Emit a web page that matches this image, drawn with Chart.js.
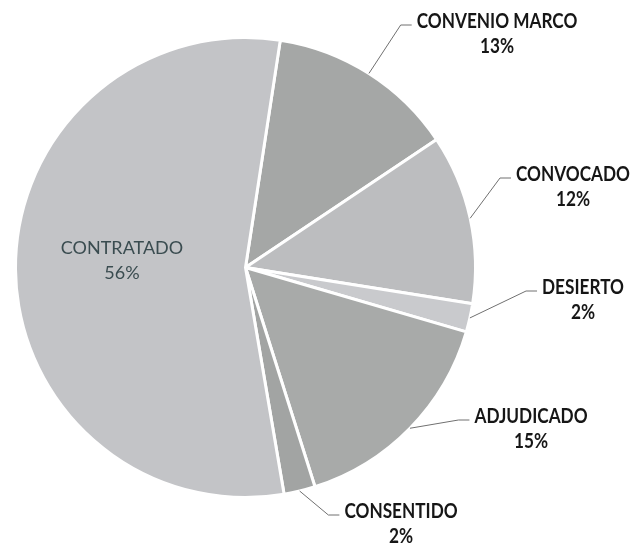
<!DOCTYPE html>
<html>
<head>
<meta charset="utf-8">
<script src="https://cdn.jsdelivr.net/npm/chart.js@4"></script>
<style>
  html, body { margin: 0; padding: 0; background: #fff; }
  #wrap { width: 633px; height: 547px; position: relative; }
</style>
</head>
<body>
<div id="wrap"><canvas id="pie"></canvas></div>
<script>
// slice order is clockwise from the top
const categories = ['CONVENIO MARCO', 'CONVOCADO', 'DESIERTO', 'ADJUDICADO', 'CONSENTIDO', 'CONTRATADO'];
const shares = [13.2, 11.9, 2.0, 15.6, 2.2, 55.1];
const pctLabels = ['13%', '12%', '2%', '15%', '2%', '56%'];

const sliceColors = ['#a5a7a6', '#bcbdbf', '#c9cacd', '#a8aaa9', '#a2a4a3', '#c3c4c7'];

// label placement: text centre x, first line middle y; inside = drawn on the slice
const labelPlace = [
  { x: 497, y: 22 },
  { x: 573, y: 175 },
  { x: 583, y: 288 },
  { x: 531, y: 417 },
  { x: 401, y: 512 },
  { x: 122, y: 248, inside: true },
];

// Calibri-ish: squeeze Lato a little horizontally
const SQUEEZE = 0.86;

function squeezedText(ctx, text, x, y, sx) {
  ctx.save();
  ctx.translate(x, y);
  ctx.scale(sx, 1);
  ctx.fillText(text, 0, 0);
  ctx.restore();
}

const sliceLabels = {
  id: 'sliceLabels',
  afterDatasetsDraw(chart) {
    const ctx = chart.ctx;
    const arcs = chart.getDatasetMeta(0).data;
    ctx.save();
    ctx.textAlign = 'center';
    ctx.textBaseline = 'middle';
    arcs.forEach((arc, i) => {
      const p = labelPlace[i];
      if (p.inside) {
        ctx.font = '18px Lato';
        ctx.fillStyle = '#3a4c50';
        ctx.fillText(categories[i], p.x, p.y);
        ctx.fillText(pctLabels[i], p.x, p.y + 25);
        return;
      }
      ctx.font = 'bold 20px Lato';
      ctx.fillStyle = '#161616';
      // leader: outer edge at mid-angle -> elbow -> short run to the text
      const mid = (arc.startAngle + arc.endAngle) / 2;
      const sx = arc.x + Math.cos(mid) * arc.outerRadius;
      const sy = arc.y + Math.sin(mid) * arc.outerRadius;
      const left = p.x - ctx.measureText(categories[i]).width * SQUEEZE / 2;
      const ex = left - 5, ey = p.y + 3;
      ctx.strokeStyle = '#707070';
      ctx.lineWidth = 1;
      ctx.beginPath();
      ctx.moveTo(sx, sy);
      ctx.lineTo(ex - 11, ey);
      ctx.lineTo(ex, ey);
      ctx.stroke();
      squeezedText(ctx, categories[i], p.x, p.y, SQUEEZE);
      squeezedText(ctx, pctLabels[i], p.x, p.y + 25, SQUEEZE);
    });
    ctx.restore();
  },
};

new Chart(document.getElementById('pie'), {
  type: 'pie',
  data: {
    labels: categories,
    datasets: [{
      data: shares,
      backgroundColor: sliceColors,
      borderColor: '#ffffff',
      borderWidth: 3,
    }],
  },
  options: {
    responsive: true,
    maintainAspectRatio: false,
    animation: false,
    rotation: 8.7,
    layout: { padding: { top: 36, bottom: 48, left: 14, right: 156 } },
    plugins: {
      legend: { display: false },
      tooltip: { enabled: false },
    },
  },
  plugins: [sliceLabels],
});
</script>
</body>
</html>
